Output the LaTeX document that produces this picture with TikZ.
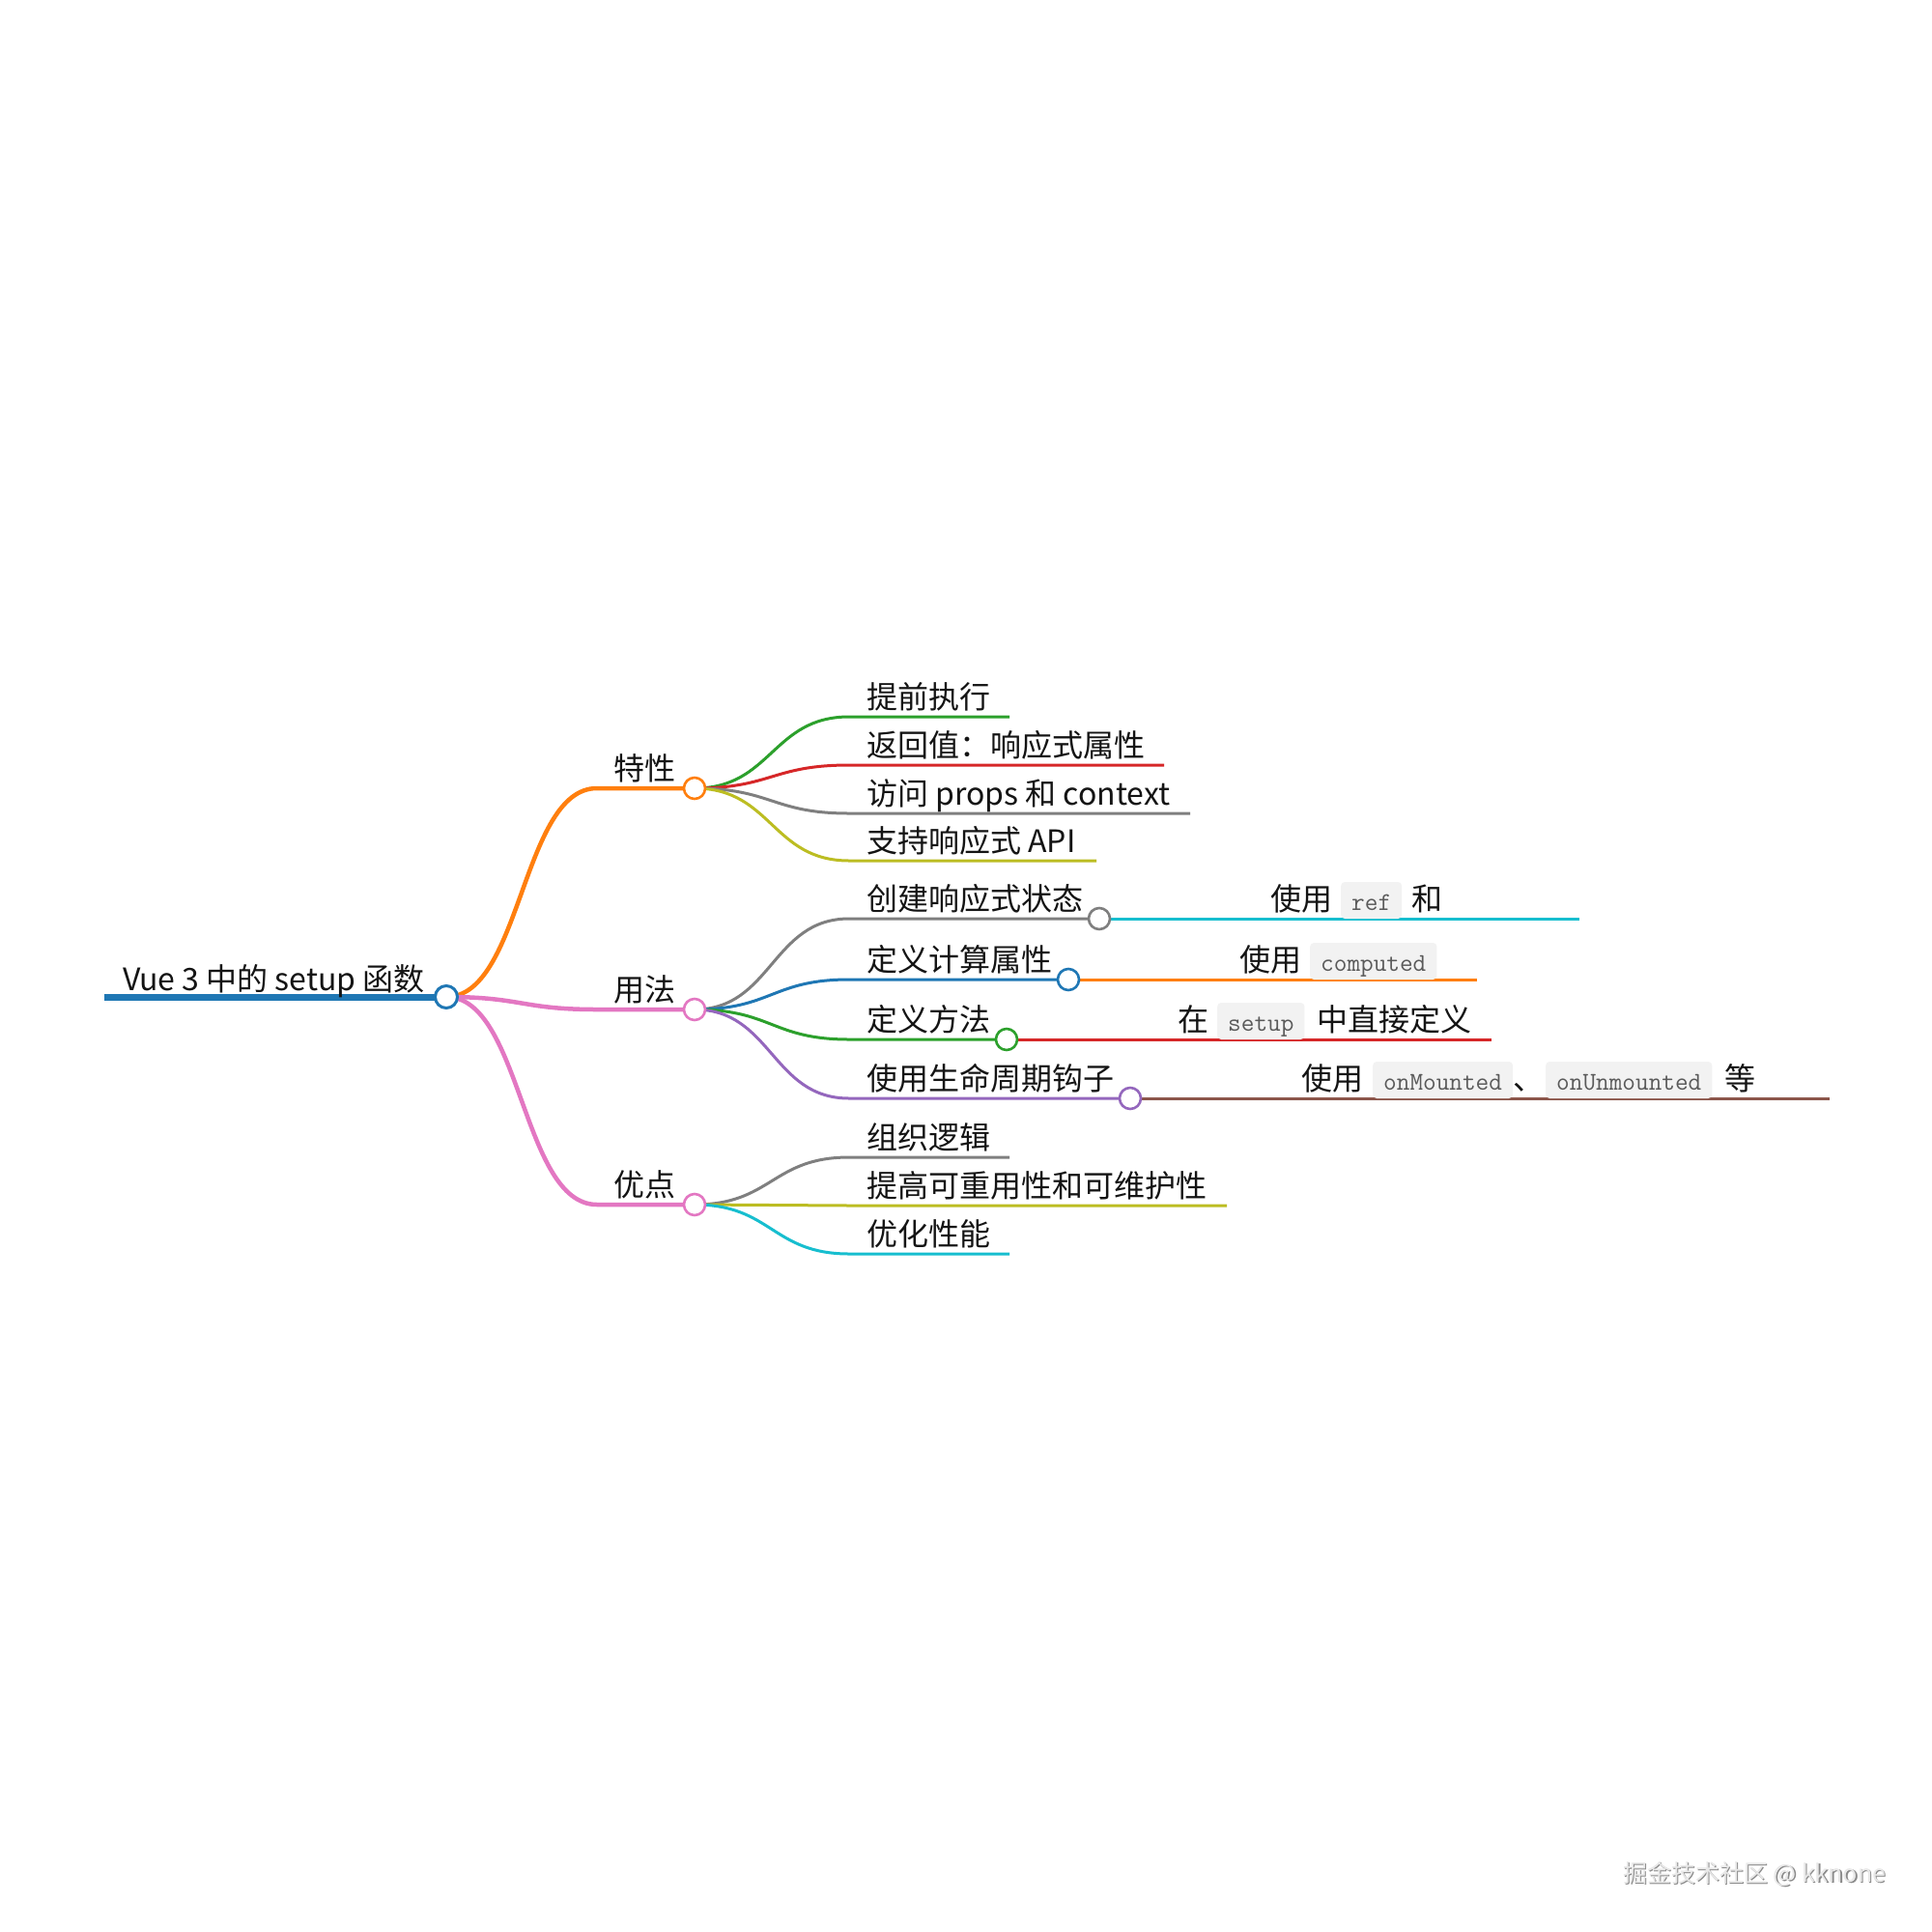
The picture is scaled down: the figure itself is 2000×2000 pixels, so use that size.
\documentclass[tikz,border=0pt]{standalone}
\usepackage{fontspec}
\setmainfont{Noto Sans CJK SC}
\definecolor{cBlue}{HTML}{1F77B4}
\definecolor{cOrange}{HTML}{FF7F0E}
\definecolor{cGreen}{HTML}{2CA02C}
\definecolor{cRed}{HTML}{D62728}
\definecolor{cPurple}{HTML}{9467BD}
\definecolor{cBrown}{HTML}{8C564B}
\definecolor{cPink}{HTML}{E377C2}
\definecolor{cGray}{HTML}{7F7F7F}
\definecolor{cOlive}{HTML}{BCBD22}
\definecolor{cCyan}{HTML}{17BECF}
\definecolor{codebg}{HTML}{F2F2F2}
\definecolor{codefg}{HTML}{5A5A5A}
\definecolor{wmdark}{HTML}{8A8A8A}
\definecolor{wmlight}{HTML}{E8E8E8}
\begin{document}
\begin{tikzpicture}[x=1pt,y=-1pt,
  lzero/.style={line width=7pt},
  lone/.style={line width=4.5pt},
  ltwo/.style={line width=3pt},
  lthree/.style={line width=3pt},
  dot/.style={circle, fill=white, line width=2.6pt, minimum size=22pt, inner sep=0pt},
  txt/.style={anchor=base west, inner sep=0pt, font=\fontsize{32}{38}\selectfont, text=black!92},
  txtr/.style={txt, anchor=base east},
  codebox/.style={anchor=base west, fill=codebg, rounded corners=4pt, inner xsep=11pt, inner ysep=3pt,
    text height=26pt, text depth=6pt, font=\ttfamily\fontsize{26.5}{30}\selectfont, text=codefg},
  wm/.style={anchor=base west, inner sep=0pt, font=\fontsize{25}{30}\selectfont}
]
\useasboundingbox[fill=white] (0,0) rectangle (2000,2000);

% ---------- coordinates ----------
\coordinate (r0) at (108,1032);
\coordinate (as) at (618,816);
\coordinate (bs) at (618,1045);
\coordinate (cs) at (618,1247);
% level 2 starts and ends
\coordinate (a1s) at (879,742)  ; \coordinate (a1e) at (1045,742);
\coordinate (a2s) at (879,792)  ; \coordinate (a2e) at (1205,792);
\coordinate (a3s) at (879,842)  ; \coordinate (a3e) at (1232,842);
\coordinate (a4s) at (879,891)  ; \coordinate (a4e) at (1135,891);
\coordinate (b1s) at (879,951);
\coordinate (b2s) at (879,1014);
\coordinate (b3s) at (879,1076);
\coordinate (b4s) at (879,1137);
\coordinate (c1s) at (879,1198) ; \coordinate (c1e) at (1045,1198);
\coordinate (c2s) at (879,1248) ; \coordinate (c2e) at (1270,1248);
\coordinate (c3s) at (879,1298) ; \coordinate (c3e) at (1045,1298);
% level 3 ends
\coordinate (b1e) at (1635,951);
\coordinate (b2e) at (1529,1014);
\coordinate (b3e) at (1544,1076);
\coordinate (b4e) at (1894,1137);

% ---------- circle centres ----------
\path
  (462,1032) coordinate (root)
  (719,816)  coordinate (a)
  (719,1045) coordinate (b)
  (719,1247) coordinate (c)
  (1138,951) coordinate (b1)
  (1106,1014) coordinate (b2)
  (1042,1076) coordinate (b3)
  (1170,1137) coordinate (b4);

% ---------- connectors ----------
\draw[lzero, cBlue] (r0) -- (root);
\draw[lone, cOrange] (root) .. controls +(78,0) and +(-78,0) .. (as) -- (a);
\draw[lone, cPink]   (root) .. controls +(78,0) and +(-78,0) .. (bs) -- (b);
\draw[lone, cPink]   (root) .. controls +(78,0) and +(-78,0) .. (cs) -- (c);

\draw[ltwo, cGreen] (a) .. controls +(80,0) and +(-80,0) .. (a1s) -- (a1e);
\draw[ltwo, cRed]   (a) .. controls +(80,0) and +(-80,0) .. (a2s) -- (a2e);
\draw[ltwo, cGray]  (a) .. controls +(80,0) and +(-80,0) .. (a3s) -- (a3e);
\draw[ltwo, cOlive] (a) .. controls +(80,0) and +(-80,0) .. (a4s) -- (a4e);

\draw[ltwo, cGray]   (b) .. controls +(80,0) and +(-80,0) .. (b1s) -- (b1);
\draw[ltwo, cBlue]   (b) .. controls +(80,0) and +(-80,0) .. (b2s) -- (b2);
\draw[ltwo, cGreen]  (b) .. controls +(80,0) and +(-80,0) .. (b3s) -- (b3);
\draw[ltwo, cPurple] (b) .. controls +(80,0) and +(-80,0) .. (b4s) -- (b4);

\draw[lthree, cCyan]   (b1) -- (b1e);
\draw[lthree, cOrange] (b2) -- (b2e);
\draw[lthree, cRed]    (b3) -- (b3e);
\draw[lthree, cBrown]  (b4) -- (b4e);

\draw[ltwo, cGray]  (c) .. controls +(80,0) and +(-80,0) .. (c1s) -- (c1e);
\draw[ltwo, cOlive] (c) .. controls +(80,0) and +(-80,0) .. (c2s) -- (c2e);
\draw[ltwo, cCyan]  (c) .. controls +(80,0) and +(-80,0) .. (c3s) -- (c3e);

% ---------- circles ----------
\node[dot, draw=cBlue, line width=3pt, minimum size=23pt] (rootdot) at (root) {};
\node[dot, draw=cOrange] (adot) at (a) {};
\node[dot, draw=cPink]   (bdot) at (b) {};
\node[dot, draw=cPink]   (cdot) at (c) {};
\node[dot, draw=cGray]   (b1dot) at (b1) {};
\node[dot, draw=cBlue]   (b2dot) at (b2) {};
\node[dot, draw=cGreen]  (b3dot) at (b3) {};
\node[dot, draw=cPurple] (b4dot) at (b4) {};

% ---------- texts ----------
\node[txt] (t0) at (127,1025) {Vue 3 中的 setup 函数};
\node[txtr] (ta) at (700,807) {特性};
\node[txtr] (tb) at (700,1036) {用法};
\node[txtr] (tc) at (700,1238) {优点};

\node[txt] (ta1) at (897,733) {提前执行};
\node[txt] (ta2) at (897,783) {返回值：响应式属性};
\node[txt] (ta3) at (897,833) {访问 props 和 context};
\node[txt] (ta4) at (897,882) {支持响应式 API};

\node[txt] (tb1) at (897,942) {创建响应式状态};
\node[txt] (tb2) at (897,1005) {定义计算属性};
\node[txt] (tb3) at (897,1067) {定义方法};
\node[txt] (tb4) at (897,1128) {使用生命周期钩子};

\node[txt] (tc1) at (897,1189) {组织逻辑};
\node[txt] (tc2) at (897,1239) {提高可重用性和可维护性};
\node[txt] (tc3) at (897,1289) {优化性能};

% level 3
\node[txt] (u1a) at (1315,942) {使用};
\node[codebox] (u1b) at (1388,942) {ref};
\node[txt] (u1c) at (1461,942) {和};

\node[txt] (u2a) at (1283,1005) {使用};
\node[codebox] (u2b) at (1356,1005) {computed};

\node[txt] (u3a) at (1219,1067) {在};
\node[codebox] (u3b) at (1260,1067) {setup};
\node[txt] (u3c) at (1363,1067) {中直接定义};

\node[txt] (u4a) at (1347,1128) {使用};
\node[codebox] (u4b) at (1421,1128) {onMounted};
\node[txt] (u4c) at (1566,1128) {、};
\node[codebox] (u4d) at (1600,1128) {onUnmounted};
\node[txt] (u4e) at (1785,1128) {等};

% ---------- watermark ----------
\node[wm, text=wmdark] (wmshadow) at (1681.5,1949.5) {掘金技术社区 @ kknone};
\node[wm, text=wmlight] (wmtext) at (1680,1948) {掘金技术社区 @ kknone};
\end{tikzpicture}
\end{document}
